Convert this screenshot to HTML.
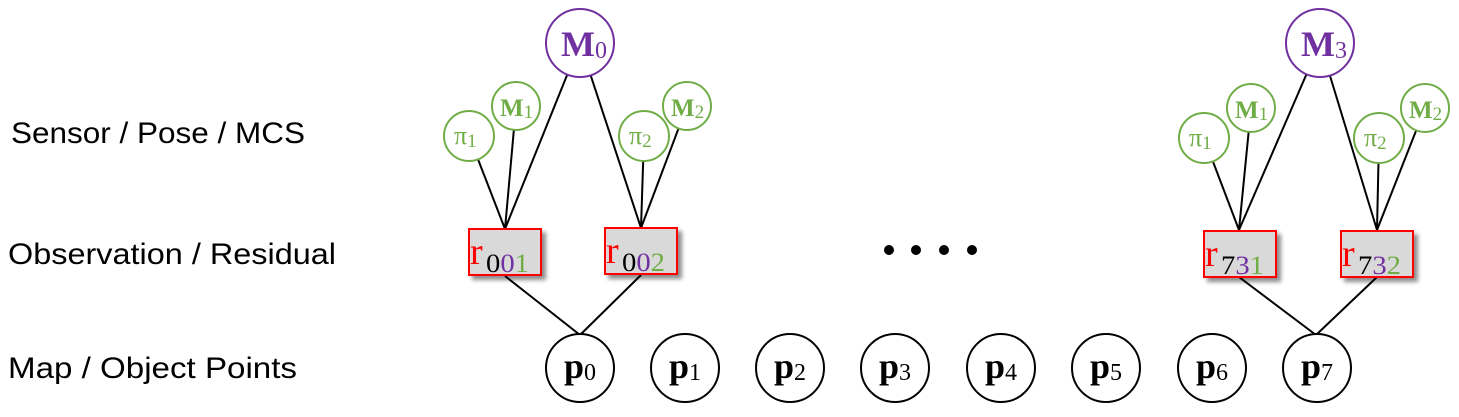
<!DOCTYPE html>
<html><head><meta charset="utf-8"><style>
html,body{margin:0;padding:0;background:#fff;}
svg{display:block;}
.lbl{font-family:"Liberation Sans",sans-serif;font-size:30px;fill:#000;}
.m{font-family:"Liberation Serif","DejaVu Serif",serif;}
</style></head><body>
<svg width="1459" height="417" viewBox="0 0 1459 417">
<defs>
<filter id="sh" x="-20%" y="-20%" width="150%" height="150%"><feGaussianBlur in="SourceAlpha" stdDeviation="2"/><feOffset dx="4" dy="4"/><feComponentTransfer><feFuncA type="linear" slope="0.45"/></feComponentTransfer><feMerge><feMergeNode/><feMergeNode in="SourceGraphic"/></feMerge></filter>
</defs>
<text class="lbl" x="11" y="143" textLength="294" lengthAdjust="spacingAndGlyphs">Sensor / Pose / MCS</text>
<text class="lbl" x="8" y="264" textLength="328" lengthAdjust="spacingAndGlyphs">Observation / Residual</text>
<text class="lbl" x="8" y="378" textLength="289" lengthAdjust="spacingAndGlyphs">Map / Object Points</text>

<g stroke="#000" stroke-width="2">
<line x1="469" y1="136" x2="505" y2="229"/><line x1="516" y1="106" x2="505" y2="229"/><line x1="580" y1="43" x2="505" y2="229"/>
<line x1="580" y1="43" x2="641" y2="228"/><line x1="644" y1="136" x2="641" y2="228"/><line x1="687" y1="106" x2="641" y2="228"/>
<line x1="505" y1="276" x2="580" y2="335"/><line x1="641" y1="275" x2="580" y2="335"/>
<line x1="1204" y1="138" x2="1239" y2="230"/><line x1="1251" y1="108" x2="1239" y2="230"/><line x1="1320" y1="43" x2="1239" y2="230"/>
<line x1="1320" y1="43" x2="1377" y2="230"/><line x1="1379" y1="138" x2="1377" y2="230"/><line x1="1425" y1="108" x2="1377" y2="230"/>
<line x1="1239" y1="277" x2="1316" y2="335"/><line x1="1377" y1="277" x2="1316" y2="335"/>
</g>

<g><circle cx="580" cy="43" r="34" fill="#fff" stroke="#7030a0" stroke-width="2"/><text class="m" x="561" y="56" font-size="36" font-weight="bold" fill="#7030a0">M<tspan font-size="24" font-weight="normal" dy="2">0</tspan></text></g>
<g><circle cx="1320" cy="43" r="34" fill="#fff" stroke="#7030a0" stroke-width="2"/><text class="m" x="1301" y="56" font-size="36" font-weight="bold" fill="#7030a0">M<tspan font-size="24" font-weight="normal" dy="2">3</tspan></text></g>

<g fill="#fff" stroke="#70ad47" stroke-width="2">
<circle cx="469" cy="136" r="25"/>
<circle cx="516" cy="106" r="24"/>
<circle cx="644" cy="136" r="25"/>
<circle cx="687" cy="106" r="24"/>
<circle cx="1204" cy="138" r="25"/>
<circle cx="1251" cy="108" r="24"/>
<circle cx="1379" cy="138" r="25"/>
<circle cx="1425" cy="108" r="24"/>
</g>
<g class="m" fill="#70ad47">
<text x="454" y="144" font-size="26">π<tspan font-size="19" dy="3">1</tspan></text>
<text x="500" y="116" font-size="25" font-weight="bold">M<tspan font-size="19" font-weight="normal" dy="2">1</tspan></text>
<text x="629" y="144" font-size="26">π<tspan font-size="19" dy="3">2</tspan></text>
<text x="671" y="116" font-size="25" font-weight="bold">M<tspan font-size="19" font-weight="normal" dy="2">2</tspan></text>
<text x="1189" y="146" font-size="26">π<tspan font-size="19" dy="3">1</tspan></text>
<text x="1235" y="118" font-size="25" font-weight="bold">M<tspan font-size="19" font-weight="normal" dy="2">1</tspan></text>
<text x="1364" y="146" font-size="26">π<tspan font-size="19" dy="3">2</tspan></text>
<text x="1409" y="118" font-size="25" font-weight="bold">M<tspan font-size="19" font-weight="normal" dy="2">2</tspan></text>
</g>

<g><rect x="469" y="229" width="72" height="46" fill="#d9d9d9" stroke="#ff0000" stroke-width="2" filter="url(#sh)"/><text class="m" x="470" y="264" font-size="38" fill="#ff0000">r</text><text class="m" x="486" y="272" font-size="26" textLength="43" lengthAdjust="spacingAndGlyphs"><tspan fill="#000">0</tspan><tspan fill="#7030a0">0</tspan><tspan fill="#70ad47">1</tspan></text></g>
<g><rect x="605" y="228" width="72" height="46" fill="#d9d9d9" stroke="#ff0000" stroke-width="2" filter="url(#sh)"/><text class="m" x="606" y="263" font-size="38" fill="#ff0000">r</text><text class="m" x="622" y="271" font-size="26" textLength="43" lengthAdjust="spacingAndGlyphs"><tspan fill="#000">0</tspan><tspan fill="#7030a0">0</tspan><tspan fill="#70ad47">2</tspan></text></g>
<g><rect x="1204" y="231" width="72" height="46" fill="#d9d9d9" stroke="#ff0000" stroke-width="2" filter="url(#sh)"/><text class="m" x="1205" y="266" font-size="38" fill="#ff0000">r</text><text class="m" x="1221" y="274" font-size="26" textLength="43" lengthAdjust="spacingAndGlyphs"><tspan fill="#000">7</tspan><tspan fill="#7030a0">3</tspan><tspan fill="#70ad47">1</tspan></text></g>
<g><rect x="1341" y="231" width="72" height="46" fill="#d9d9d9" stroke="#ff0000" stroke-width="2" filter="url(#sh)"/><text class="m" x="1342" y="266" font-size="38" fill="#ff0000">r</text><text class="m" x="1358" y="274" font-size="26" textLength="43" lengthAdjust="spacingAndGlyphs"><tspan fill="#000">7</tspan><tspan fill="#7030a0">3</tspan><tspan fill="#70ad47">2</tspan></text></g>

<g fill="#000">
<circle cx="889" cy="250" r="5"/><circle cx="916" cy="250" r="5"/><circle cx="944" cy="250" r="5"/><circle cx="972" cy="250" r="5"/>
</g>

<g fill="#fff" stroke="#000" stroke-width="2">
<circle cx="580" cy="368" r="34"/>
<circle cx="685" cy="368" r="34"/>
<circle cx="790" cy="368" r="34"/>
<circle cx="895" cy="368" r="34"/>
<circle cx="1001" cy="368" r="34"/>
<circle cx="1106" cy="368" r="34"/>
<circle cx="1212" cy="368" r="34"/>
<circle cx="1317" cy="368" r="34"/>
</g>
<g class="m" fill="#000" font-size="36" font-weight="bold">
<text x="564" y="378">p<tspan font-size="24" font-weight="normal" dy="2">0</tspan></text>
<text x="669" y="378">p<tspan font-size="24" font-weight="normal" dy="2">1</tspan></text>
<text x="774" y="378">p<tspan font-size="24" font-weight="normal" dy="2">2</tspan></text>
<text x="879" y="378">p<tspan font-size="24" font-weight="normal" dy="2">3</tspan></text>
<text x="985" y="378">p<tspan font-size="24" font-weight="normal" dy="2">4</tspan></text>
<text x="1090" y="378">p<tspan font-size="24" font-weight="normal" dy="2">5</tspan></text>
<text x="1196" y="378">p<tspan font-size="24" font-weight="normal" dy="2">6</tspan></text>
<text x="1301" y="378">p<tspan font-size="24" font-weight="normal" dy="2">7</tspan></text>
</g>
</svg>
</body></html>
